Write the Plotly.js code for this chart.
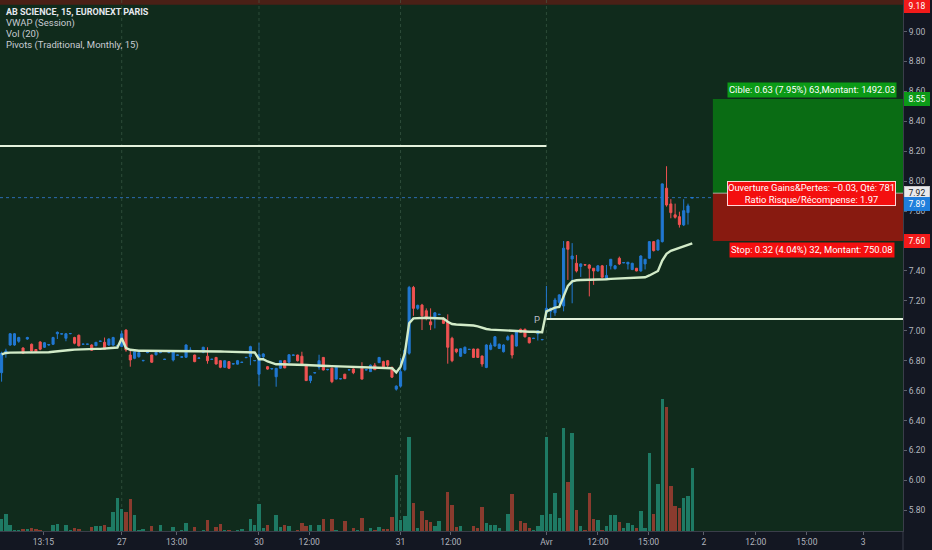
<!DOCTYPE html>
<html>
<head>
<meta charset="utf-8">
<script src="https://cdn.plot.ly/plotly-3.0.1.min.js"></script>
<style>
  html, body { margin: 0; padding: 0; background: #131722; }
  #chart { width: 932px; height: 550px; }
</style>
</head>
<body>
<div id="chart"></div>
<script>
// ---- Data (15-minute bars, AB SCIENCE, Euronext Paris) ----
const openP = [
 6.72,6.85,6.905,6.905,6.93,6.885,6.945,6.91,6.875,6.925,6.89,6.905,6.91,6.98,6.978,6.95,6.98,6.955,6.97,6.91,6.91,6.905,6.90,6.929,6.923,6.905,6.905,6.90,
 6.895,7.005,6.838,6.816,6.827,6.80,6.854,6.838,6.84,6.854,6.808,6.854,6.805,6.836,6.823,6.823,6.868,6.838,6.816,6.856,6.83,6.808,6.822,6.80,6.756,6.794,6.778,6.777,6.788,6.82,6.827,6.80,
 6.71,6.827,6.76,6.745,6.693,6.75,6.80,6.79,6.836,6.838,6.83,6.77,6.667,6.718,6.756,6.822,6.74,6.75,6.677,6.678,6.71,6.738,6.745,6.758,6.75,6.738,6.727,6.77,6.787,6.794,6.80,6.756,6.61,
 6.63,6.74,6.85,7.29,7.15,7.172,7.134,7.06,7.094,7.108,7.083,7.06,6.95,6.878,6.83,6.85,6.875,6.878,6.878,6.831,6.755,6.876,6.898,6.882,6.86,6.94,6.97,6.898,7.01,7.01,6.954,6.948,6.98,6.94,
 7.12,7.13,7.12,7.19,7.166,7.596,7.48,7.451,7.43,7.442,7.44,7.418,7.40,7.434,7.35,7.434,7.415,7.485,7.454,7.447,7.41,7.418,7.40,7.447,7.485,7.596,7.54,7.596,7.953,7.848,7.775,7.763,7.708,7.79,7.888
];
const highP = [
 6.86,6.88,6.985,6.985,6.96,6.89,6.96,6.915,6.877,6.93,6.925,6.91,6.96,6.995,6.982,6.985,6.983,6.96,6.975,6.912,6.912,6.91,6.925,6.932,6.955,6.95,6.96,6.905,
 7.00,7.01,6.87,6.865,6.856,6.805,6.858,6.84,6.86,6.858,6.812,6.858,6.865,6.84,6.828,6.91,6.89,6.84,6.82,6.893,6.89,6.812,6.825,6.802,6.802,6.796,6.782,6.805,6.792,6.824,6.90,6.803,
 6.92,6.85,6.765,6.75,6.752,6.80,6.805,6.842,6.84,6.84,6.86,6.775,6.70,6.722,6.84,6.825,6.745,6.755,6.76,6.682,6.712,6.742,6.748,6.762,6.79,6.742,6.775,6.785,6.825,6.80,6.805,6.76,6.635,
 6.82,6.88,7.30,7.30,7.175,7.18,7.15,7.15,7.125,7.112,7.09,7.11,6.96,6.88,6.885,6.895,6.878,6.88,6.88,6.835,6.91,6.92,6.965,6.915,6.91,6.97,6.975,7.00,7.015,7.015,6.957,6.952,7.00,6.943,
 7.30,7.155,7.22,7.245,7.60,7.60,7.586,7.507,7.45,7.445,7.445,7.42,7.44,7.44,7.44,7.48,7.44,7.496,7.458,7.46,7.455,7.42,7.505,7.48,7.60,7.60,7.61,7.985,8.10,7.88,7.85,7.796,7.88,7.85,7.892
];
const lowP = [
 6.66,6.82,6.90,6.90,6.92,6.845,6.94,6.86,6.855,6.87,6.885,6.90,6.905,6.945,6.975,6.93,6.978,6.91,6.895,6.908,6.908,6.865,6.898,6.927,6.875,6.90,6.90,6.895,
 6.89,6.86,6.76,6.81,6.82,6.795,6.85,6.785,6.835,6.85,6.805,6.85,6.795,6.834,6.82,6.82,6.86,6.79,6.814,6.85,6.78,6.806,6.775,6.75,6.752,6.745,6.776,6.775,6.786,6.818,6.77,6.797,
 6.63,6.80,6.74,6.74,6.626,6.745,6.75,6.785,6.834,6.795,6.765,6.665,6.65,6.716,6.74,6.735,6.735,6.65,6.675,6.676,6.678,6.736,6.71,6.756,6.675,6.736,6.725,6.738,6.785,6.755,6.755,6.685,6.60,
 6.62,6.73,6.84,7.10,7.14,7.005,7.07,7.005,7.016,7.106,7.045,6.78,6.79,6.85,6.825,6.845,6.873,6.818,6.818,6.76,6.75,6.87,6.895,6.88,6.855,6.935,6.815,6.895,6.985,6.955,6.915,6.946,6.935,6.937,
 7.09,7.085,7.10,7.16,7.13,7.34,7.184,7.39,7.36,7.438,7.23,7.307,7.395,7.355,7.345,7.41,7.41,7.44,7.452,7.41,7.405,7.398,7.395,7.41,7.48,7.53,7.535,7.59,7.83,7.752,7.75,7.69,7.70,7.71,7.887
];
const closeP = [
 6.85,6.865,6.98,6.98,6.955,6.85,6.955,6.865,6.86,6.877,6.92,6.908,6.955,6.99,6.98,6.98,6.982,6.917,6.90,6.911,6.911,6.87,6.923,6.931,6.877,6.945,6.955,6.902,
 6.98,6.872,6.805,6.86,6.854,6.802,6.856,6.79,6.856,6.856,6.81,6.856,6.86,6.838,6.826,6.905,6.87,6.794,6.818,6.89,6.80,6.81,6.778,6.756,6.80,6.75,6.78,6.80,6.79,6.822,6.894,6.801,
 6.84,6.845,6.744,6.748,6.749,6.80,6.752,6.84,6.838,6.80,6.77,6.667,6.698,6.72,6.80,6.738,6.742,6.66,6.756,6.68,6.68,6.74,6.72,6.76,6.677,6.74,6.77,6.74,6.822,6.76,6.77,6.69,6.63,
 6.727,6.87,7.29,7.15,7.17,7.10,7.083,7.04,7.12,7.11,7.05,6.89,6.80,6.86,6.88,6.89,6.876,6.822,6.822,6.778,6.905,6.905,6.96,6.91,6.905,6.96,6.838,6.994,6.99,6.96,6.92,6.95,7.00,6.942,
 7.15,7.15,7.206,7.24,7.552,7.545,7.50,7.40,7.447,7.44,7.418,7.40,7.434,7.358,7.37,7.478,7.434,7.447,7.456,7.458,7.451,7.40,7.50,7.478,7.596,7.536,7.607,7.982,7.841,7.79,7.759,7.71,7.803,7.835,7.89
];
const volume = [
 1230,1670,600,70,70,170,170,300,170,70,30,30,600,700,30,570,100,300,170,30,30,370,530,470,570,400,1930,3270,
 2200,1930,3200,1570,100,200,30,500,30,600,30,30,370,30,70,800,30,400,30,100,1130,30,430,670,100,100,30,130,230,30,1170,630,
 2730,300,570,30,1570,400,600,500,30,100,800,530,600,30,570,1200,30,1200,100,30,1000,30,270,100,1330,30,300,130,400,200,200,1370,5600,
 1130,1470,9400,2800,300,2030,1100,870,500,1030,50,3900,2570,370,530,50,50,470,270,2400,800,570,570,270,50,1730,3700,100,1000,770,270,70,470,1570,
 9400,1730,3800,1270,10270,4900,9800,2100,500,70,3830,1170,1070,70,500,1570,1600,900,270,770,570,300,1970,270,7800,1670,4670,13170,12400,4470,2470,2270,3330,3470,6330
];
const vwap = [
 6.843,6.852,6.854,6.854,6.855,6.855,6.856,6.856,6.856,6.857,6.857,6.857,6.86,6.864,6.866,6.87,6.872,6.874,6.876,6.877,6.877,6.878,6.879,6.879,6.88,6.882,6.886,6.888,
 6.95,6.885,6.873,6.868,6.867,6.867,6.867,6.867,6.867,6.867,6.867,6.867,6.867,6.867,6.867,6.867,6.867,6.867,6.867,6.867,6.867,6.867,6.867,6.862,6.861,6.86,6.86,6.858,6.857,6.856,6.856,6.855,
 6.81,6.81,6.795,6.785,6.776,6.776,6.776,6.776,6.776,6.775,6.771,6.771,6.77,6.77,6.77,6.768,6.765,6.764,6.763,6.762,6.761,6.759,6.758,6.758,6.756,6.756,6.756,6.756,6.755,6.753,6.752,6.75,6.722,
 6.76,6.85,7.05,7.083,7.086,7.087,7.087,7.086,7.086,7.085,7.082,7.06,7.045,7.042,7.04,7.04,7.04,7.035,7.03,7.02,7.012,7.008,7.006,7.005,7.005,7.004,6.998,6.996,6.995,6.995,6.994,6.994,6.994,6.99,
 7.13,7.145,7.155,7.16,7.23,7.30,7.33,7.338,7.34,7.34,7.34,7.34,7.341,7.342,7.345,7.347,7.348,7.35,7.35,7.352,7.353,7.355,7.357,7.358,7.37,7.385,7.40,7.47,7.515,7.535,7.545,7.552,7.56,7.57,7.585
];
const bars = openP.map((_, i) => i);

// Monthly pivot (P) levels: March, April
const pivotLevels = [8.235, 7.078];
const pivotStartBar = [-0.37, 127];
const pivotEndBar = [127, 210.12];

// Position tool (long)
const entryPrice = 7.92, targetPrice = 8.55, stopPrice = 7.60, lastPrice = 7.89, pivotR = 9.18;
const positionStartBar = 165.8;

// Axis ticks
const tickBars = [9.75, 28, 40.8, 60, 71.7, 93, 104.7, 127, 139, 150.8, 163.7, 175.8, 187.7, 200.8];
const tickLabels = ['13:15','27','13:00','30','12:00','31','12:00','Avr','12:00','15:00','2','12:00','15:00','3'];
const priceTicks = [5.8,6.0,6.2,6.4,6.6,6.8,7.0,7.2,7.4,7.6,7.8,8.0,8.2,8.4,8.6,8.8,9.0];
const daySeparators = [28, 60, 93, 127];

const legendLines = ['AB SCIENCE, 15, EURONEXT PARIS','VWAP (Session)','Vol (20)','Pivots (Traditional, Monthly, 15)'];

// ---- Styling ----
const FONT = 'Roboto, "Liberation Sans", sans-serif';
const UP = '#2178d2', DOWN = '#f05252';
const VUP = '#1e7a64', VDOWN = '#8a3b2e';
const XMIN = -0.37, XMAX = 210.12;
const YMIN = 5.6617, YMAX = 9.2112;

const volColors = closeP.map((c, i) => c >= openP[i] ? VUP : VDOWN);

const traces = [
  {
    type: 'bar', x: bars, y: volume, yaxis: 'y', xaxis: 'x',
    marker: { color: volColors, line: { width: 0 } }, width: 0.8,
    hoverinfo: 'skip', showlegend: false
  },
  {
    type: 'scatter', mode: 'lines', x: [pivotStartBar[0], pivotEndBar[0]], y: [pivotLevels[0], pivotLevels[0]],
    yaxis: 'y2', line: { color: '#e4f1dc', width: 2 }, hoverinfo: 'skip', showlegend: false
  },
  {
    type: 'scatter', mode: 'lines', x: [pivotStartBar[1], pivotEndBar[1]], y: [pivotLevels[1], pivotLevels[1]],
    yaxis: 'y2', line: { color: '#e4f1dc', width: 2 }, hoverinfo: 'skip', showlegend: false
  },
  {
    type: 'scatter', mode: 'lines', x: bars, y: vwap, yaxis: 'y2',
    line: { color: '#d2ebc8', width: 2.4 }, hoverinfo: 'skip', showlegend: false
  },
  {
    type: 'candlestick', x: bars, open: openP, high: highP, low: lowP, close: closeP, yaxis: 'y2',
    increasing: { line: { color: UP, width: 1 }, fillcolor: UP },
    decreasing: { line: { color: DOWN, width: 1 }, fillcolor: DOWN },
    whiskerwidth: 0, hoverinfo: 'skip', showlegend: false
  }
];

const shapes = [
  { type: 'rect', xref: 'paper', yref: 'y2', x0: 0, x1: 1, y0: pivotR, y1: YMAX, fillcolor: '#4a2016', line: { width: 0 }, layer: 'below' },
  { type: 'line', xref: 'paper', yref: 'y2', x0: 0, x1: 1, y0: lastPrice, y1: lastPrice, line: { color: '#2c6cb0', width: 1, dash: 'dot' }, layer: 'below' },
  { type: 'rect', xref: 'x', yref: 'y2', x0: positionStartBar, x1: XMAX, y0: entryPrice, y1: targetPrice, fillcolor: '#0a6c14', line: { width: 0 }, layer: 'above' },
  { type: 'rect', xref: 'x', yref: 'y2', x0: positionStartBar, x1: XMAX, y0: stopPrice, y1: entryPrice, fillcolor: '#881a10', line: { width: 0 }, layer: 'above' },
  { type: 'line', xref: 'x', yref: 'y2', x0: positionStartBar, x1: XMAX, y0: entryPrice, y1: entryPrice, line: { color: 'rgba(210,210,210,0.75)', width: 1 }, layer: 'above' },
  { type: 'line', xref: 'paper', yref: 'paper', x0: 1, x1: 1, y0: -19/531, y1: 0, line: { color: '#3a3e4a', width: 1 } }
];
daySeparators.forEach(b => shapes.push({
  type: 'line', xref: 'x', yref: 'paper', x0: b, x1: b, y0: 0, y1: 1,
  line: { color: 'rgba(80,115,90,0.45)', width: 1, dash: 'dot' }, layer: 'below'
}));

const annotations = [];
legendLines.forEach((t, k) => annotations.push({
  xref: 'paper', yref: 'paper', x: 0, xshift: 4, xanchor: 'left',
  y: 1 - (11.7 + k * 11.2) / 531, yanchor: 'middle', showarrow: false,
  text: k === 0 ? '<b>' + t + '</b>' : t,
  font: { family: FONT, size: k === 0 ? 9 : 9.5, color: k === 0 ? '#e6e8ee' : '#c9ccd3' }
}));
annotations.push({ xref: 'x', yref: 'y2', x: 124.8, y: pivotLevels[1], showarrow: false, text: 'P',
  font: { family: FONT, size: 9.5, color: '#b8bcc4' } });

function priceTag(v, bg, fg, yshift, border) {
  return { xref: 'paper', yref: 'y2', x: 1, xanchor: 'left', xshift: 1, y: v, yshift: yshift || 0,
    showarrow: false, text: v.toFixed(2), bgcolor: bg, bordercolor: border || bg, borderwidth: 1, borderpad: 1,
    width: 22, align: 'center', font: { family: FONT, size: 8.5, color: fg } };
}
annotations.push(priceTag(pivotR, '#f21a1a', '#ffffff', -1));
annotations.push(priceTag(targetPrice, '#0c9a18', '#ffffff', 0));
annotations.push(priceTag(entryPrice, '#e9eaec', '#1a1d26', 0, '#c8c8c8'));
annotations.push(priceTag(lastPrice, '#1f7fdc', '#ffffff', -6));
annotations.push(priceTag(stopPrice, '#f21a1a', '#ffffff', 0));

const boxCenter = 188.8;
annotations.push({ xref: 'x', yref: 'y2', x: boxCenter, y: targetPrice, yanchor: 'bottom', yshift: 1, showarrow: false,
  text: 'Cible: 0.63 (7.95%) 63,Montant: 1492.03', bgcolor: '#0b9a16', borderpad: 1,
  font: { family: FONT, size: 9.4, color: '#ffffff' } });
annotations.push({ xref: 'x', yref: 'y2', x: boxCenter, y: entryPrice, yanchor: 'middle', showarrow: false,
  text: 'Ouverture Gains&Pertes: \u22120.03, Qté: 781<br>Ratio Risque/Récompense: 1.97', bgcolor: '#f40f0f',
  bordercolor: '#ffd6d6', borderwidth: 1, borderpad: 0,
  font: { family: FONT, size: 9.4, color: '#ffffff' } });
annotations.push({ xref: 'x', yref: 'y2', x: boxCenter, y: stopPrice, yanchor: 'top', yshift: -1, showarrow: false,
  text: 'Stop: 0.32 (4.04%) 32, Montant: 750.08', bgcolor: '#f40f0f', borderpad: 1,
  font: { family: FONT, size: 9.4, color: '#ffffff' } });

const layout = {
  width: 932, height: 550,
  margin: { l: 0, r: 29, t: 0, b: 19, pad: 0 },
  paper_bgcolor: '#131722', plot_bgcolor: '#102b1c',
  showlegend: false, dragmode: false, bargap: 0,
  xaxis: {
    range: [XMIN, XMAX], tickmode: 'array', tickvals: tickBars, ticktext: tickLabels,
    showgrid: false, zeroline: false, showline: true, linecolor: '#3a3e4a', linewidth: 1,
    ticks: 'outside', ticklen: 3, tickcolor: '#5d606b',
    tickfont: { family: FONT, size: 8.5, color: '#b2b5be' },
    rangeslider: { visible: false }, fixedrange: true
  },
  yaxis: { range: [0, 53100], visible: false, fixedrange: true },
  yaxis2: {
    overlaying: 'y', side: 'right', range: [YMIN, YMAX],
    tickmode: 'array', tickvals: priceTicks, ticktext: priceTicks.map(v => v.toFixed(2)),
    showgrid: false, zeroline: false, showline: true, linecolor: '#3a3e4a', linewidth: 1,
    ticks: 'outside', ticklen: 3, tickcolor: '#5d606b',
    tickfont: { family: FONT, size: 8.5, color: '#b2b5be' }, fixedrange: true
  },
  shapes: shapes,
  annotations: annotations
};

Plotly.newPlot('chart', traces, layout, { staticPlot: true, displayModeBar: false });
</script>
</body>
</html>
